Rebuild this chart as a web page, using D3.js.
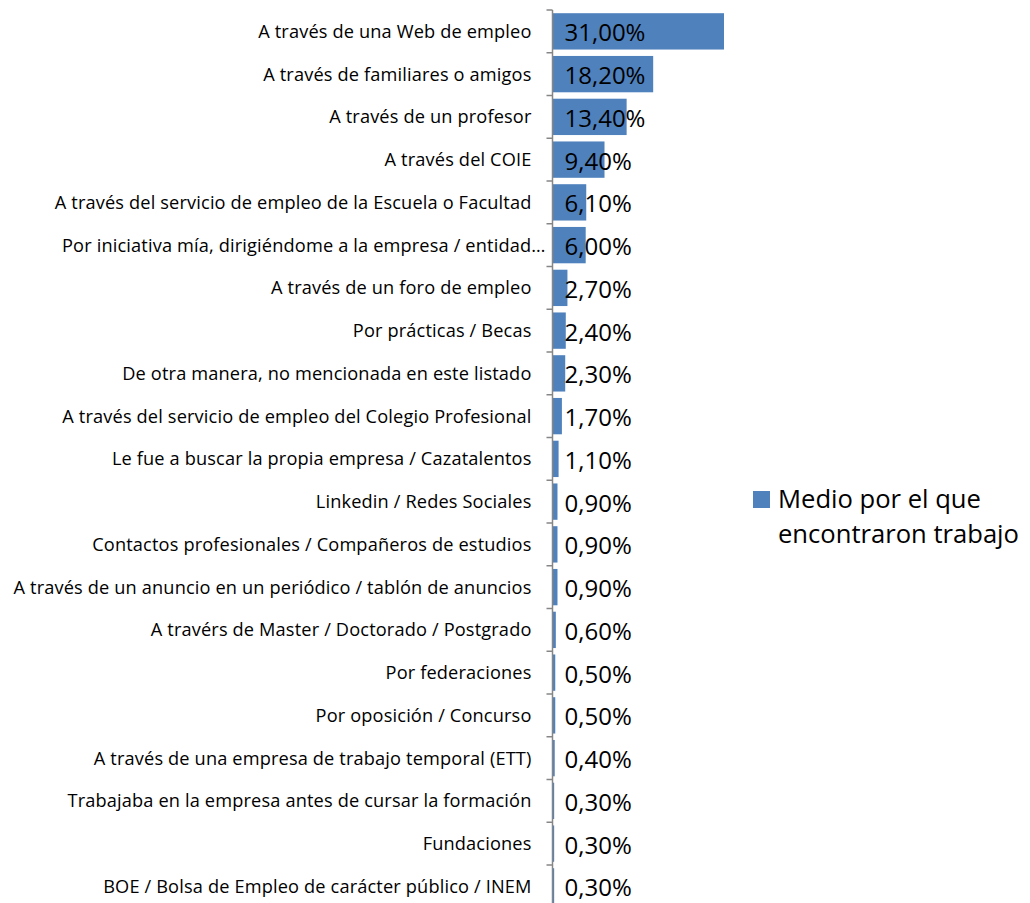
<!DOCTYPE html>
<html>
<head>
<meta charset="utf-8">
<script src="https://cdn.jsdelivr.net/npm/d3@7"></script>
<style>
  html, body { margin: 0; padding: 0; background: #fff; }
  svg { display: block; }
</style>
</head>
<body>
<svg id="chart" width="1030" height="903"></svg>
<script>
const categories = [
  "A través de una Web de empleo",
  "A través de familiares o amigos",
  "A través de un profesor",
  "A través del COIE",
  "A través del servicio de empleo de la Escuela o Facultad",
  "Por iniciativa mía, dirigiéndome a la empresa / entidad…",
  "A través de un foro de empleo",
  "Por prácticas / Becas",
  "De otra manera, no mencionada en este listado",
  "A través del servicio de empleo del Colegio Profesional",
  "Le fue a buscar la propia empresa / Cazatalentos",
  "Linkedin / Redes Sociales",
  "Contactos profesionales / Compañeros de estudios",
  "A través de un anuncio en un periódico / tablón de anuncios",
  "A travérs de Master / Doctorado / Postgrado",
  "Por federaciones",
  "Por oposición / Concurso",
  "A través de una empresa de trabajo temporal (ETT)",
  "Trabajaba en la empresa antes de cursar la formación",
  "Fundaciones",
  "BOE / Bolsa de Empleo de carácter público / INEM"
];
const values = [31.0, 18.2, 13.4, 9.4, 6.1, 6.0, 2.7, 2.4, 2.3, 1.7, 1.1, 0.9, 0.9, 0.9, 0.6, 0.5, 0.5, 0.4, 0.3, 0.3, 0.3];
const seriesName = ["Medio por el que", "encontraron trabajo"];

const data = categories.map((c, i) => ({ cat: c, val: values[i] }));

const svg = d3.select("#chart");
const axisX = 552.5;

const x = d3.scaleLinear().domain([0, 31]).range([axisX, 724]);
const y = d3.scaleBand().domain(categories).range([10, 907.75])
  .paddingInner(0.15).paddingOuter(0.075);

const barColor = "#4F81BD";
const fmt = v => d3.format(".2f")(v).replace(".", ",") + "%";

// bars
svg.append("g").selectAll("rect").data(data).join("rect")
  .attr("x", x(0))
  .attr("y", d => y(d.cat))
  .attr("width", d => x(d.val) - x(0))
  .attr("height", y.bandwidth())
  .attr("fill", barColor);

// axis line & boundary ticks
const axisG = svg.append("g").attr("stroke", "#868686").attr("stroke-width", 1.5);
axisG.append("line")
  .attr("x1", axisX).attr("x2", axisX)
  .attr("y1", y.range()[0]).attr("y2", y.range()[1]);
const step = y.step();
const boundaries = categories.map(c => y(c) - step * y.paddingInner() / 2);
boundaries.push(boundaries[boundaries.length - 1] + step);
axisG.selectAll("line.tick").data(boundaries).join("line")
  .attr("class", "tick")
  .attr("x1", axisX - 6).attr("x2", axisX)
  .attr("y1", d => d).attr("y2", d => d);

// category labels
const labelAxis = d3.axisLeft(y).tickSize(0).tickPadding(21);
const lg = svg.append("g").attr("transform", `translate(${axisX},0)`).call(labelAxis);
lg.select(".domain").remove();
lg.selectAll("text")
  .attr("font-family", "'Open Sans', sans-serif")
  .attr("font-size", 18.2)
  .attr("letter-spacing", "0.15px")
  .attr("fill", "#000")
  .attr("dy", "0.36em")
  .attr("dx", d => d.endsWith("…") ? 14 : 0);

// value labels
svg.append("g").selectAll("text").data(data).join("text")
  .attr("x", axisX + 12)
  .attr("y", d => y(d.cat) + y.bandwidth() / 2 + 10)
  .attr("font-family", "'Open Sans', sans-serif")
  .attr("font-size", 24)
  .attr("fill", "#000")
  .text(d => fmt(d.val));

// legend
const leg = svg.append("g");
leg.append("rect").attr("x", 753).attr("y", 491).attr("width", 17).attr("height", 17).attr("fill", barColor);
leg.selectAll("text").data(seriesName).join("text")
  .attr("x", 778)
  .attr("y", (d, i) => 508 + i * 35)
  .attr("font-family", "'Open Sans', sans-serif")
  .attr("font-size", 25.6)
  .attr("fill", "#000")
  .text(d => d);
</script>
</body>
</html>
